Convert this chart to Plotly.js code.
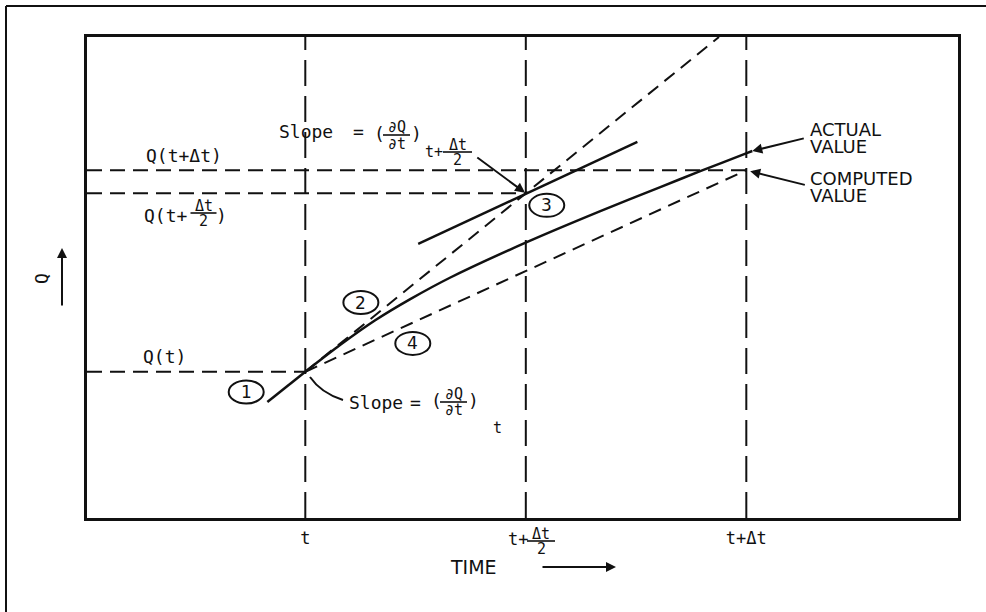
<!DOCTYPE html>
<html>
<head>
<meta charset="utf-8">
<script src="https://cdn.plot.ly/plotly-3.0.1.min.js"></script>
<style>
  html, body { margin: 0; padding: 0; background: #fff; }
  #chart { width: 986px; height: 612px; }
</style>
</head>
<body>
<div id="chart"></div>
<script>
// Time positions: t, t + Δt/2, t + Δt
const timeMarks = [1, 2, 3];
const timeTickText = ['t', '', 't+Δt'];

// Q levels marked on the left: Q(t), Q(t+Δt/2), Q(t+Δt)
const qLevels = [3.04, 6.75, 7.23];

// Actual solution Q(time)
const actualTime = [1.0, 1.159, 1.317, 1.476, 1.658, 2.007, 2.338, 2.610, 2.791, 3.005, 3.027];
const actualQ    = [3.04, 3.60, 4.11, 4.55, 5.00, 5.74, 6.38, 6.88, 7.21, 7.59, 7.63];

// (1) slope at t, drawn solid just before t
const slopeAtT_time = [0.828, 1.0];
const slopeAtT_q    = [2.41, 3.04];

// (2) half step taken with the slope at t (dashed)
const halfStep_time = [1.0, 2.876];
const halfStep_q    = [3.04, 10.0];

// (3) slope evaluated at t + Δt/2 (solid)
const slopeAtMid_time = [1.512, 2.506];
const slopeAtMid_q    = [5.70, 7.82];

// (4) full step from t using the mid-point slope (dashed)
const fullStep_time = [1.0, 3.0];
const fullStep_q    = [3.04, 7.23];

// circled step numbers
const stepNames = ['1', '2', '3', '4'];
const stepTime  = [0.732, 1.252, 2.095, 1.4875];
const stepQ     = [2.62, 4.48, 6.50, 3.63];

// ---------------------------------------------------------------
const INK = '#111';
const MONO = '"DejaVu Sans Mono", "Liberation Mono", monospace';
const SANS = '"DejaVu Sans", "Liberation Sans", sans-serif';

const W = 986, H = 612, L = 87, R = 28, T = 37, B = 94;
const pw = W - L - R, ph = H - T - B;
const PX = x => (x - L) / pw;          // page pixel -> paper x
const PY = y => (H - B - y) / ph;      // page pixel -> paper y
const X_RANGE = [0.01, 3.96], Y_RANGE = [0, 10];

function line(x, y, width, dash, extra) {
  return {
    type: 'scatter', mode: 'lines', x: x, y: y, hoverinfo: 'skip',
    line: Object.assign({ color: INK, width: width, dash: dash || 'solid' }, extra || {})
  };
}

const traces = [];
// vertical time guides
timeMarks.forEach(m => traces.push(line([m, m], Y_RANGE, 2, '26px,10px')));
// horizontal Q guides, each running to its own time mark
qLevels.forEach((q, i) => traces.push(line([X_RANGE[0], timeMarks[i]], [q, q], 2, '15px,8px')));
traces.push(line(halfStep_time, halfStep_q, 2, '13px,8px'));
traces.push(line(fullStep_time, fullStep_q, 2, '13px,8px'));
traces.push(line(slopeAtT_time, slopeAtT_q, 2.5));
traces.push(line(slopeAtMid_time, slopeAtMid_q, 2.5));
traces.push(line(actualTime, actualQ, 2.5, 'solid', { shape: 'spline', smoothing: 0.8 }));

const annotations = [];
const shapes = [];

function txt(x, y, text, size, opts) {
  annotations.push(Object.assign({
    xref: 'paper', yref: 'paper', x: PX(x), y: PY(y), text: text,
    showarrow: false, xanchor: 'center', yanchor: 'middle',
    font: { family: MONO, size: size, color: INK }
  }, opts || {}));
}
function bar(x0, x1, y) {
  shapes.push({ type: 'line', xref: 'paper', yref: 'paper',
    x0: PX(x0), x1: PX(x1), y0: PY(y), y1: PY(y), line: { color: INK, width: 1.6 } });
}
function frac(cx, yNum, yBar, yDen, halfW, num, den, size) {
  txt(cx, yNum, num, size);
  bar(cx - halfW, cx + halfW, yBar);
  txt(cx, yDen, den, size);
}
function arrow(xref, yref, x, y, ax, ay, standoff) {
  annotations.push({ xref: xref, yref: yref, x: x, y: y, ax: ax, ay: ay, text: '',
    showarrow: true, arrowhead: 2, arrowsize: 1, arrowwidth: 2, arrowcolor: INK,
    standoff: standoff || 0 });
}

// Q(t+Δt)
txt(184, 155, 'Q(t+Δt)', 18);
// Q(t+Δt/2)
txt(190, 215, 'Q(t+', 18, { xanchor: 'right' });
frac(203.5, 206, 213, 221, 13, 'Δt', '2', 15);
txt(221, 215, ')', 18);
// Q(t)
txt(164, 356, 'Q(t)', 18);

// Slope = (∂Q/∂t) at t+Δt/2
txt(277, 131, 'Slope', 18, { xanchor: 'left' });
txt(358, 131, '=', 18);
txt(379, 133, '(', 18);
frac(396.5, 127, 135, 143.5, 13.5, '∂Q', '∂t', 15);
txt(416.5, 133, ')', 18);
txt(433.5, 152, 't+', 15);
frac(457.5, 145, 152, 159.5, 14.5, 'Δt', '2', 15);
arrow('x', 'y', timeMarks[1], qLevels[1], -50, -37, 1);

// Slope = (∂Q/∂t) at t
txt(347, 402, 'Slope', 18, { xanchor: 'left' });
txt(415, 402, '=', 18);
txt(436, 400, '(', 18);
frac(453.5, 394, 402, 409.5, 13.5, '∂Q', '∂t', 15);
txt(473.5, 400, ')', 18);
txt(497.5, 427.5, 't', 15);
shapes.push({ type: 'path', xref: 'paper', yref: 'paper',
  path: `M ${PX(310)},${PY(377)} Q ${PX(321)},${PY(393)} ${PX(343)},${PY(400)}`,
  line: { color: INK, width: 2 } });

// actual / computed value call-outs
const calloutFont = { family: SANS, size: 18, color: INK };
txt(808, 130, 'ACTUAL', 18, { xanchor: 'left', font: calloutFont });
txt(808, 146.5, 'VALUE', 18, { xanchor: 'left', font: calloutFont });
txt(808, 178.5, 'COMPUTED', 18, { xanchor: 'left', font: calloutFont });
txt(808, 195, 'VALUE', 18, { xanchor: 'left', font: calloutFont });
arrow('x', 'y', actualTime[actualTime.length - 1], actualQ[actualQ.length - 1], 53, -13, 0);
arrow('x', 'y', timeMarks[2], qLevels[2], 60, 15, 4);

// circled step numbers
stepNames.forEach((s, i) => {
  shapes.push({ type: 'circle', xref: 'x', yref: 'y',
    xsizemode: 'pixel', ysizemode: 'pixel', xanchor: stepTime[i], yanchor: stepQ[i],
    x0: -17.5, x1: 17.5, y0: -11.5, y1: 11.5, line: { color: INK, width: 2 } });
  annotations.push({ xref: 'x', yref: 'y', x: stepTime[i], y: stepQ[i], text: s,
    showarrow: false, xanchor: 'center', yanchor: 'middle',
    font: { family: SANS, size: 17, color: INK } });
});

// middle time tick label t+Δt/2
txt(517.5, 538.5, 't+', 17);
frac(541, 533.5, 541, 549, 14, 'Δt', '2', 15);

// axis names with arrows
txt(41.5, 278.5, 'Q', 18, { textangle: -90 });
arrow('paper', 'paper', PX(62), PY(248), 0, 59, 0);
txt(473, 567, 'TIME', 19, { font: { family: SANS, size: 19, color: INK } });
arrow('paper', 'paper', PX(616), PY(567), -75, 0, 0);

// page frame (top and left edges)
shapes.push({ type: 'line', xref: 'paper', yref: 'paper', x0: PX(6), x1: PX(986), y0: PY(6), y1: PY(6), line: { color: INK, width: 2 } });
shapes.push({ type: 'line', xref: 'paper', yref: 'paper', x0: PX(6), x1: PX(6), y0: PY(6), y1: PY(612), line: { color: INK, width: 2 } });

const layout = {
  width: W, height: H,
  margin: { l: L, r: R, t: T, b: B },
  paper_bgcolor: '#fff', plot_bgcolor: '#fff',
  showlegend: false,
  xaxis: {
    range: X_RANGE, showgrid: false, zeroline: false,
    showline: true, mirror: true, linewidth: 3, linecolor: INK,
    ticks: '', tickvals: timeMarks, ticktext: timeTickText,
    tickfont: { family: MONO, size: 17, color: INK }, ticklabelstandoff: 3
  },
  yaxis: {
    range: Y_RANGE, showgrid: false, zeroline: false,
    showline: true, mirror: true, linewidth: 3, linecolor: INK,
    ticks: '', showticklabels: false
  },
  annotations: annotations,
  shapes: shapes
};

Plotly.newPlot('chart', traces, layout, { displayModeBar: false, staticPlot: true });
</script>
</body>
</html>
